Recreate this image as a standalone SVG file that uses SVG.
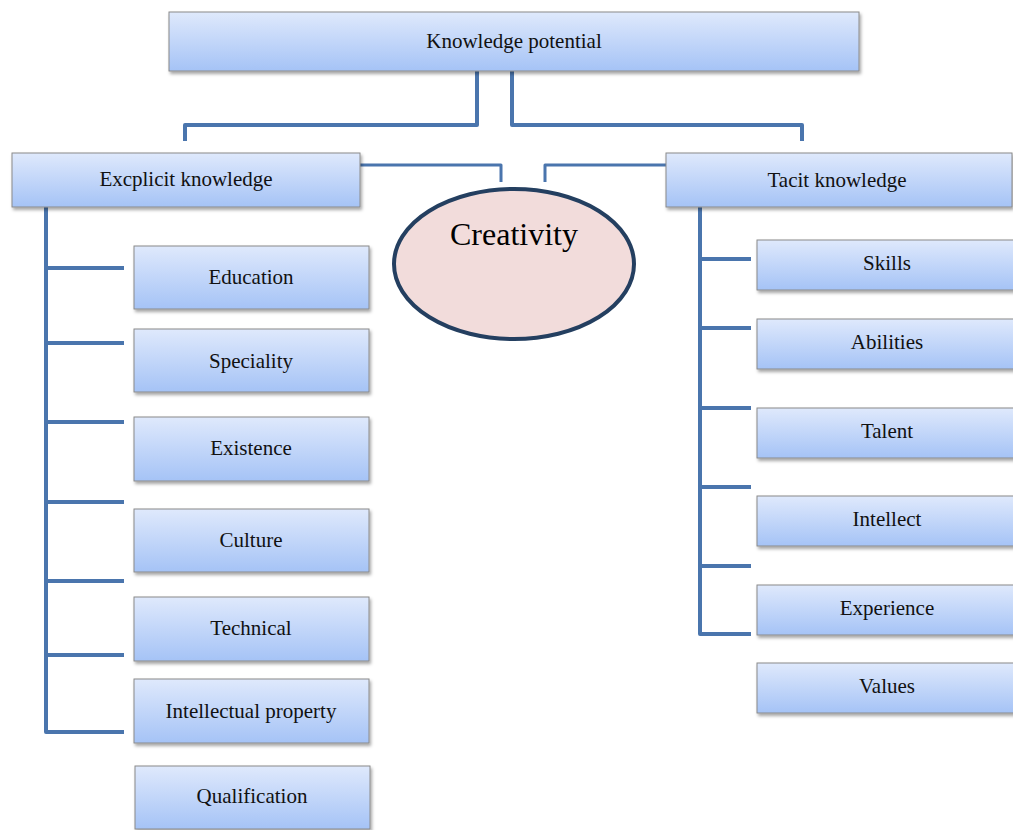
<svg xmlns="http://www.w3.org/2000/svg" width="1013" height="830" viewBox="0 0 1013 830">
<style>
.box{fill:url(#g);stroke:#8a8a8a;stroke-width:1;filter:url(#sh)}
.t{font-family:"Liberation Serif","Times New Roman",serif;font-size:21px;fill:#111;text-anchor:middle;dominant-baseline:central}
.c{fill:none;stroke:#4a75ad;stroke-width:4;stroke-linejoin:round}
</style>
<defs>
<linearGradient id="g" x1="0" y1="0" x2="0" y2="1">
<stop offset="0" stop-color="#dfe9fc"/>
<stop offset="1" stop-color="#a5c3f6"/>
</linearGradient>
<filter id="sh" x="-5%" y="-10%" width="110%" height="130%">
<feDropShadow dx="1.5" dy="2.5" stdDeviation="1.5" flood-color="#000" flood-opacity="0.35"/>
</filter>
</defs>
<g id="connectors">
<path class="c" d="M477 71V125H185V141"/>
<path class="c" d="M512 71V125H802V141"/>
<path class="c" d="M360 165H501V182" style="stroke-width:3"/>
<path class="c" d="M666 165H545V182" style="stroke-width:3"/>
<path class="c" d="M46 207V732H124M46 268H124M46 343H124M46 422H124M46 502H124M46 581H124M46 655H124"/>
<path class="c" d="M700 207V634H751M700 259H751M700 328H751M700 408H751M700 487H751M700 566H751"/>
</g>
<g id="n-top"><rect class="box" x="169" y="12" width="690" height="59"/><text class="t" x="514" y="41">Knowledge potential</text></g>
<g id="n-explicit"><rect class="box" x="12" y="153" width="348" height="54"/><text class="t" x="186" y="179">Excplicit knowledge</text></g>
<g id="n-tacit"><rect class="box" x="666" y="153" width="346" height="54"/><text class="t" x="837" y="180">Tacit knowledge</text></g>
<g id="n-creativity"><ellipse cx="514" cy="264" rx="120" ry="75" fill="#f2dcdb" stroke="#243f60" stroke-width="4"/><text x="514" y="234" font-family="Liberation Serif,Times New Roman,serif" font-size="32" fill="#000" text-anchor="middle" dominant-baseline="central">Creativity</text></g>
<g id="n-education"><rect class="box" x="134" y="246" width="235" height="63"/><text class="t" x="251" y="277">Education</text></g>
<g id="n-speciality"><rect class="box" x="134" y="329" width="235" height="63"/><text class="t" x="251" y="361">Speciality</text></g>
<g id="n-existence"><rect class="box" x="134" y="417" width="235" height="64"/><text class="t" x="251" y="448">Existence</text></g>
<g id="n-culture"><rect class="box" x="134" y="509" width="235" height="63"/><text class="t" x="251" y="540">Culture</text></g>
<g id="n-technical"><rect class="box" x="134" y="597" width="235" height="64"/><text class="t" x="251" y="628">Technical</text></g>
<g id="n-ip"><rect class="box" x="134" y="679" width="235" height="64"/><text class="t" x="251" y="711">Intellectual property</text></g>
<g id="n-qualification"><rect class="box" x="135" y="766" width="235" height="63"/><text class="t" x="252" y="796">Qualification</text></g>
<g id="n-skills"><rect class="box" x="757" y="240" width="260" height="50"/><text class="t" x="887" y="263">Skills</text></g>
<g id="n-abilities"><rect class="box" x="757" y="319" width="260" height="50"/><text class="t" x="887" y="342">Abilities</text></g>
<g id="n-talent"><rect class="box" x="757" y="408" width="260" height="50"/><text class="t" x="887" y="431">Talent</text></g>
<g id="n-intellect"><rect class="box" x="757" y="496" width="260" height="50"/><text class="t" x="887" y="519">Intellect</text></g>
<g id="n-experience"><rect class="box" x="757" y="585" width="260" height="50"/><text class="t" x="887" y="608">Experience</text></g>
<g id="n-values"><rect class="box" x="757" y="663" width="260" height="50"/><text class="t" x="887" y="686">Values</text></g>
</svg>
